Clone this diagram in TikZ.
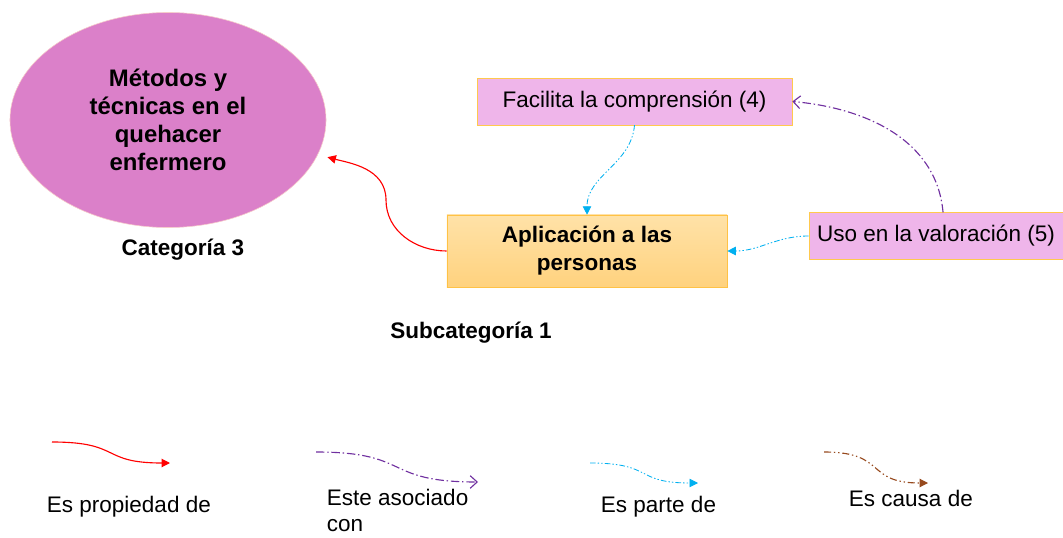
\documentclass[tikz,border=0pt]{standalone}
\usepackage{fontspec}
\setmainfont{Liberation Sans}
\usepackage{xcolor}
\usetikzlibrary{shapes.geometric,arrows.meta}

\definecolor{orchid}{HTML}{DB80C9}
\definecolor{lilac}{HTML}{EFB5EA}
\definecolor{gold}{HTML}{FFC94D}
\definecolor{peachtop}{HTML}{FFE2A8}
\definecolor{peachbot}{HTML}{FFD27E}
\definecolor{relblue}{HTML}{00B0F0}
\definecolor{relpurple}{HTML}{7030A0}
\definecolor{relbrown}{HTML}{974A1E}

\begin{document}
\begin{tikzpicture}[x=0.025cm,y=-0.025cm,
    txt/.style={font=\fontsize{16}{19.5}\selectfont},
    bold/.style={font=\fontsize{16}{20}\selectfont\bfseries},
    pinkbox/.style={draw=gold,fill=lilac,txt,minimum height=1.17cm},
    prop/.style={red,thick,-{Triangle[width=6pt,length=6pt]}},
    assoc/.style={relpurple,thick,dash pattern=on 6pt off 2pt on 1pt off 2pt,-{Straight Barb[width=9pt,length=5pt]}},
    part/.style={relblue,semithick,dash pattern=on 4pt off 1.5pt on 1pt off 1.5pt on 1pt off 1.5pt,-{Triangle[width=6pt,length=6pt]}},
    cause/.style={relbrown,thick,dash pattern=on 5pt off 2pt on 1pt off 2pt on 1pt off 2pt,-{Triangle[width=6pt,length=6pt]}}]
    \useasboundingbox (0,0) rectangle (1063,538);
    % Category
    \node[ellipse,draw=orchid!60!orange!40,fill=orchid,minimum width=7.9cm,minimum height=5.375cm,
        inner sep=0pt,align=center,font=\fontsize{17}{20}\selectfont\bfseries] (ell) at (168,120)
        {Métodos y\\técnicas en el\\quehacer\\enfermero};
    \node[bold] (cat) at (183,250) {Categoría 3};
    % Subcategory and its properties
    \node[draw=gold!90!orange,top color=peachtop,bottom color=peachbot,
        bold,align=center,minimum width=7cm,minimum height=1.8cm] (apl) at (587,251)
        {Aplicación a las\\personas};
    \node[bold] (sub) at (471,333) {Subcategoría 1};
    \node[pinkbox,minimum width=7.875cm] (fac) at (634.5,101.5) {Facilita la comprensión (4)};
    \node[pinkbox,minimum width=6.35cm] (uso) at (936,236) {Uso en la valoración (5)};
    % Relations
    \draw[prop,shorten >=7pt] (apl.west) to[out=180,in=-90] (386,200) to[out=90,in=-15] (ell.-13);
    \draw[part] (fac.south) to[out=-95,in=90] (apl.north);
    \draw[part] (uso.west) to[out=180,in=0] (apl.east);
    \draw[assoc] ([xshift=5pt]uso.north) to[out=95,in=-5] (fac.east);
    % Legend
    \coordinate (p1) at (52,442);  \coordinate (p2) at (170,463);
    \coordinate (a1) at (316,452); \coordinate (a2) at (478,482);
    \coordinate (b1) at (590,463); \coordinate (b2) at (698,483);
    \coordinate (c1) at (824,452); \coordinate (c2) at (928,483);
    \draw[prop] (p1) to[out=0,in=180,looseness=1.5] (p2);
    \draw[assoc] (a1) to[out=0,in=180,looseness=1.5] (a2);
    \draw[part] (b1) to[out=0,in=180,looseness=1.5] (b2);
    \draw[cause] (c1) to[out=0,in=180,looseness=1.5] (c2);
    \node[txt,anchor=west] (lp) at (42,507) {Es propiedad de};
    \node[txt,anchor=west,align=left,font=\fontsize{16}{18.5}\selectfont] (la) at (322,510) {Este asociado\\con};
    \node[txt,anchor=west] (lb) at (596,507) {Es parte de};
    \node[txt,anchor=west] (lc) at (844,498) {Es causa de};
\end{tikzpicture}
\end{document}
